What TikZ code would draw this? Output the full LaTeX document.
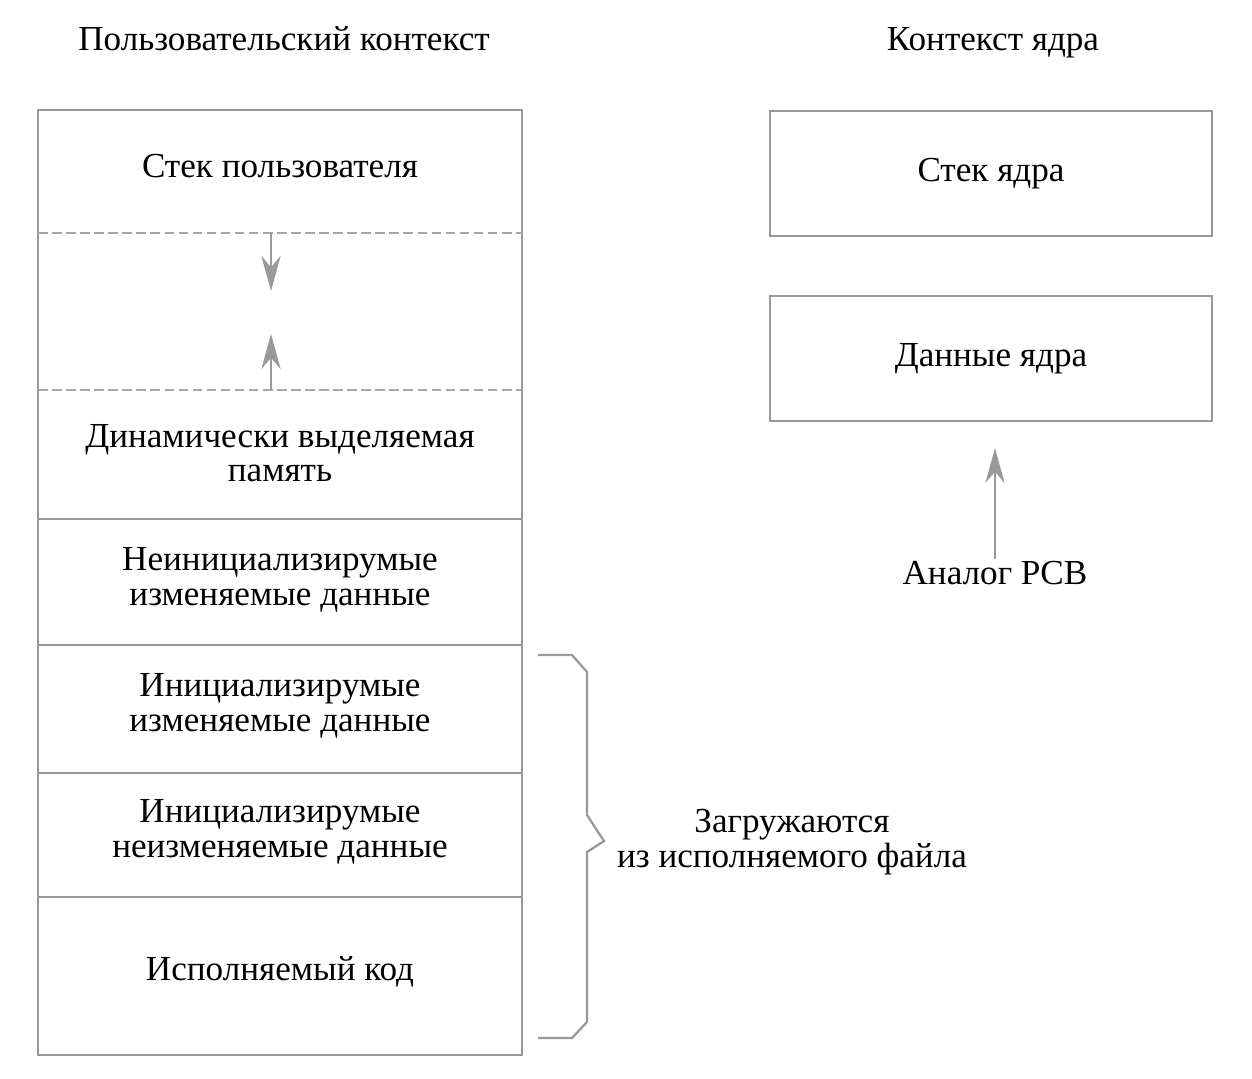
\documentclass[tikz,border=0pt]{standalone}
\usepackage{fontspec}
\setmainfont{Liberation Serif}
\usetikzlibrary{arrows.meta}

\begin{document}
\begin{tikzpicture}[x=0.02cm,y=-0.02cm,
    frame/.style={draw=gray!80,line width=1.1pt},
    dashsep/.style={draw=gray!70,line width=0.9pt,dash pattern=on 5.5pt off 2.5pt},
    txt/.style={font=\fontsize{20}{19.5}\selectfont,align=center,inner sep=1pt},
    kbox/.style={frame,txt,minimum width=8.84cm,minimum height=2.5cm},
    growarrow/.style={draw=gray!80,line width=0.9pt,-{Stealth[length=20pt,width=11pt,fill=gray!80]}}]
  \useasboundingbox (0,0) rectangle (1252,1079);
  % titles
  \node[txt,anchor=base] (utitle) at (284,50) {Пользовательский контекст};
  \node[txt,anchor=base] (ktitle) at (993,50) {Контекст ядра};
  % user context column
  \draw[frame] (38,110) rectangle (522,1055);
  \draw[dashsep] (38,233) -- (522,233);
  \draw[dashsep] (38,390) -- (522,390);
  \foreach \y in {519,645,773,897}
    \draw[frame] (38,\y) -- (522,\y);
  \node[txt] (ustack) at (280,166) {Стек пользователя};
  \node[txt] (heap) at (280,453) {Динамически выделяемая\\память};
  \node[txt] (bss) at (280,580) {Неинициализирумые\\изменяемые данные};
  \node[txt] (idata) at (280,706) {Инициализирумые\\изменяемые данные};
  \node[txt] (rodata) at (280,832) {Инициализирумые\\неизменяемые данные};
  \node[txt] (code) at (280,972) {Исполняемый код};
  \coordinate (stacktop) at (271,233);
  \coordinate (stacktip) at (271,291);
  \coordinate (heaptop) at (271,390);
  \coordinate (heaptip) at (271,334);
  \draw[growarrow] (stacktop) -- (stacktip);
  \draw[growarrow] (heaptop) -- (heaptip);
  % brace over loaded parts
  \draw[frame,line width=1.3pt] (538,655) -- (572,655) -- (587,672) -- (587,815)
    -- (604,841) -- (587,852) -- (587,1022) -- (572,1038) -- (538,1038);
  \node[txt] (loaded) at (792,842) {Загружаются\\из исполняемого файла};
  % kernel context
  \node[kbox] (kstack) at (991,173.5) {Стек ядра};
  \node[kbox] (kdata) at (991,358.5) {Данные ядра};
  \node[txt] (pcb) at (995,573) {Аналог PCB};
  \draw[growarrow,shorten >=0.52cm] (pcb.north) -- (pcb.north |- kdata.south);
\end{tikzpicture}
\end{document}
